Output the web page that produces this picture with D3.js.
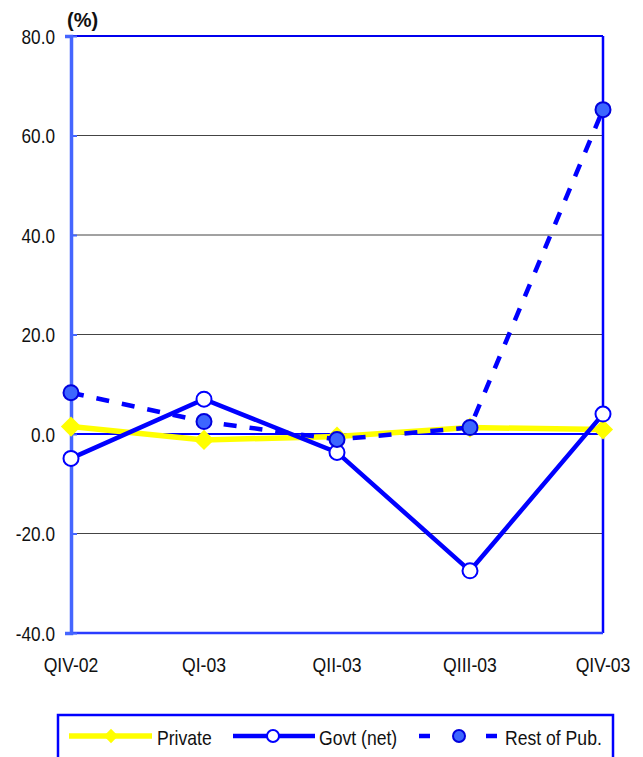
<!DOCTYPE html>
<html>
<head>
<meta charset="utf-8">
<script src="https://cdn.jsdelivr.net/npm/d3@7"></script>
<style>
  body { margin: 0; background: #fff; }
  text { font-family: "Liberation Sans", Arial, sans-serif; fill: #111; }
</style>
</head>
<body>
<svg id="chart" width="643" height="757"></svg>
<script>
// data
const quarters = ["QIV-02", "QI-03", "QII-03", "QIII-03", "QIV-03"];
const privateVals = [1.5, -1.2, -0.5, 1.3, 0.9];
const govtVals = [-4.9, 7.0, -3.7, -27.5, 4.0];
const restVals = [8.3, 2.5, -1.1, 1.3, 65.2];
const yTicks = [80, 60, 40, 20, 0, -20, -40];

const svg = d3.select("#chart");
const plotL = 71, plotR = 603, plotT = 36, plotB = 633;

const x = d3.scalePoint().domain(quarters).range([plotL, plotR]);
const y = d3.scaleLinear().domain([-40, 80]).range([plotB, plotT]);

// grid lines
svg.append("g").selectAll("line")
  .data(yTicks.filter(d => d !== 80 && d !== 0 && d !== -40))
  .join("line")
  .attr("x1", plotL).attr("x2", plotR)
  .attr("y1", d => y(d)).attr("y2", d => y(d))
  .attr("stroke", "#444").attr("stroke-width", 1);

// frame: top, right, bottom in blue
svg.append("line").attr("x1", plotL).attr("x2", plotR).attr("y1", y(80)).attr("y2", y(80))
  .attr("stroke", "#0000ee").attr("stroke-width", 2);
svg.append("line").attr("x1", plotR).attr("x2", plotR).attr("y1", plotT).attr("y2", plotB)
  .attr("stroke", "#0000ff").attr("stroke-width", 2.5);
svg.append("line").attr("x1", plotL).attr("x2", plotR).attr("y1", y(-40)).attr("y2", y(-40))
  .attr("stroke", "#2a3cff").attr("stroke-width", 2.5);
// zero line
svg.append("line").attr("x1", plotL).attr("x2", plotR).attr("y1", y(0)).attr("y2", y(0))
  .attr("stroke", "#0000ff").attr("stroke-width", 2);

// left axis (plain hyphen for negatives, like the original)
const yAxis = d3.axisLeft(y).tickValues(yTicks).tickSize(6).tickFormat(d => d.toFixed(1));
const gy = svg.append("g").attr("transform", `translate(${plotL},0)`).call(yAxis);
gy.select(".domain").attr("stroke", "#4566ff").attr("stroke-width", 3.5);
gy.selectAll(".tick line").attr("stroke", "#4566ff").attr("stroke-width", 2).attr("x2", 6);
gy.selectAll(".tick text")
  .attr("x", null).attr("dy", null)
  .attr("transform", "translate(-16,7) scale(0.86,1)")
  .style("font-size", "20px").style("font-family", "Liberation Sans, Arial, sans-serif")
  .attr("fill", "#111");

// x labels
svg.append("g").selectAll("text")
  .data(quarters).join("text")
  .attr("transform", d => `translate(${x(d)},672) scale(0.88,1)`)
  .attr("text-anchor", "middle")
  .style("font-size", "20px")
  .text(d => d);

// unit label
svg.append("text").attr("x", 67).attr("y", 27)
  .style("font-size", "20px").style("font-weight", "bold")
  .text("(%)");

const line = d3.line().x((d, i) => x(quarters[i])).y(d => y(d));
const diamond = d3.symbol().type(d3.symbolDiamond2).size(260);

// Private
svg.append("path").datum(privateVals).attr("d", line)
  .attr("fill", "none").attr("stroke", "#ffff00").attr("stroke-width", 5.5);
svg.append("g").selectAll("path").data(privateVals).join("path")
  .attr("d", diamond)
  .attr("transform", (d, i) => `translate(${x(quarters[i])},${y(d)})`)
  .attr("fill", "#ffff00");

// Govt (net)
svg.append("path").datum(govtVals).attr("d", line)
  .attr("fill", "none").attr("stroke", "#0000ff").attr("stroke-width", 4.5);
svg.append("g").selectAll("circle").data(govtVals).join("circle")
  .attr("cx", (d, i) => x(quarters[i])).attr("cy", d => y(d)).attr("r", 7.5)
  .attr("fill", "#fff").attr("stroke", "#0000ff").attr("stroke-width", 2);

// Rest of Pub.
svg.append("path").datum(restVals).attr("d", line)
  .attr("fill", "none").attr("stroke", "#0000ff").attr("stroke-width", 4.5)
  .attr("stroke-dasharray", "13,13");
svg.append("g").selectAll("circle").data(restVals).join("circle")
  .attr("cx", (d, i) => x(quarters[i])).attr("cy", d => y(d)).attr("r", 7.5)
  .attr("fill", "#3d66ff").attr("stroke", "#0000dd").attr("stroke-width", 2);

// legend
const lg = svg.append("g");
lg.append("rect").attr("x", 58).attr("y", 715).attr("width", 555).attr("height", 60)
  .attr("fill", "#fff").attr("stroke", "#0000ff").attr("stroke-width", 2.5);
const ly = 736;
lg.append("line").attr("x1", 69).attr("x2", 152).attr("y1", ly).attr("y2", ly)
  .attr("stroke", "#ffff00").attr("stroke-width", 5.5);
lg.append("path").attr("d", d3.symbol().type(d3.symbolDiamond2).size(130))
  .attr("transform", `translate(111,${ly})`).attr("fill", "#ffff00");
lg.append("text").attr("transform", `translate(157,745) scale(0.88,1)`)
  .style("font-size", "20px").text("Private");

lg.append("line").attr("x1", 233).attr("x2", 315).attr("y1", ly).attr("y2", ly)
  .attr("stroke", "#0000ff").attr("stroke-width", 4.5);
lg.append("circle").attr("cx", 273).attr("cy", ly).attr("r", 6)
  .attr("fill", "#fff").attr("stroke", "#0000ff").attr("stroke-width", 2);
lg.append("text").attr("transform", `translate(319,745) scale(0.88,1)`)
  .style("font-size", "20px").text("Govt (net)");

lg.append("line").attr("x1", 419).attr("x2", 497).attr("y1", ly).attr("y2", ly)
  .attr("stroke", "#0000ff").attr("stroke-width", 4.5)
  .attr("stroke-dasharray", "11,56");
lg.append("circle").attr("cx", 459).attr("cy", ly).attr("r", 6)
  .attr("fill", "#3d66ff").attr("stroke", "#0000dd").attr("stroke-width", 2);
lg.append("text").attr("transform", `translate(505,745) scale(0.88,1)`)
  .style("font-size", "20px").text("Rest of Pub.");
</script>
</body>
</html>
